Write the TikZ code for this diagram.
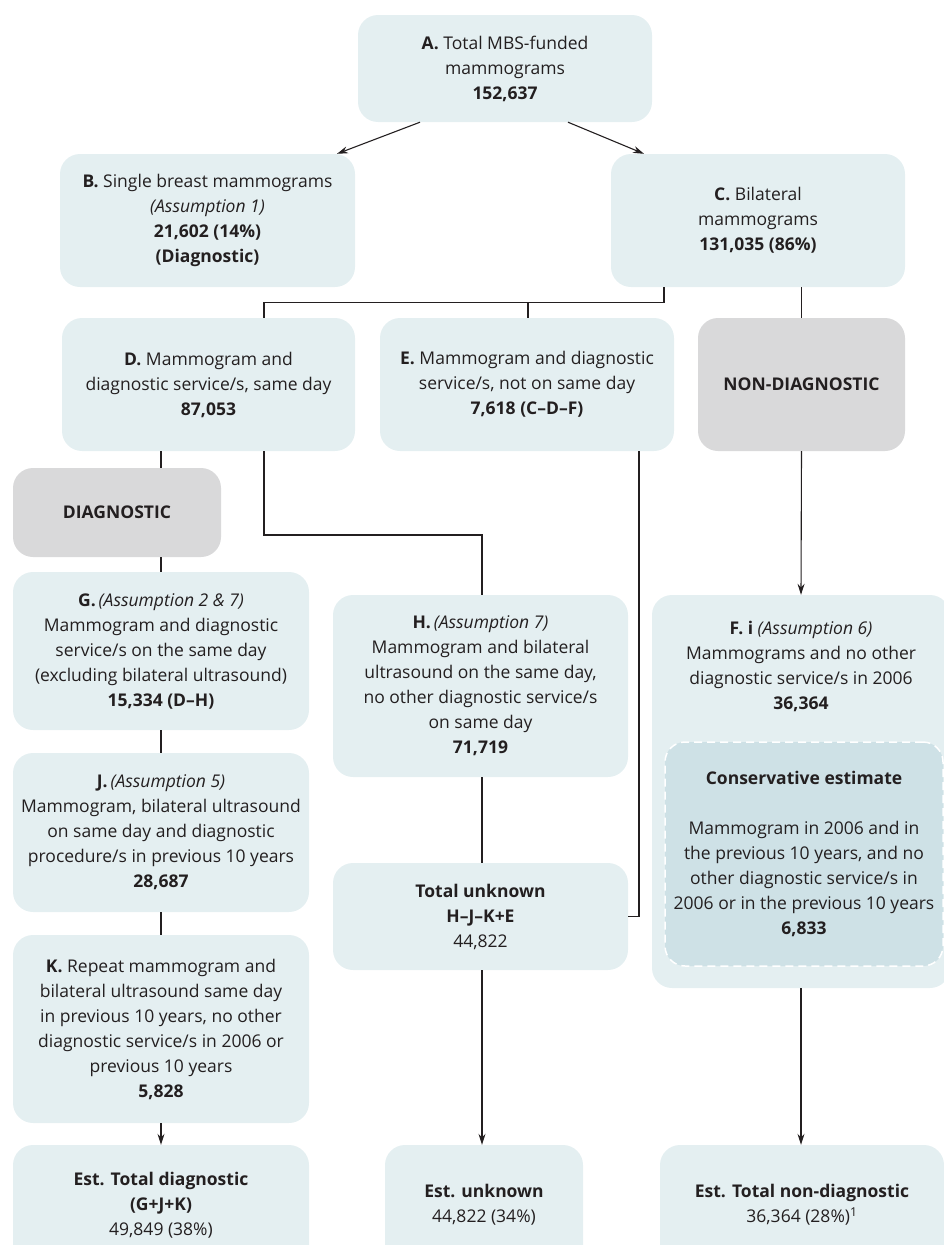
\documentclass[tikz,border=0pt]{standalone}
\usepackage{fontspec}
\setmainfont{Open Sans}
\usetikzlibrary{arrows.meta,calc}
\definecolor{boxblue}{HTML}{E4EFF1}
\definecolor{boxgray}{HTML}{D9D9DA}
\definecolor{consblue}{HTML}{CEE1E6}
\definecolor{ink}{HTML}{231F20}
\begin{document}
\begin{tikzpicture}[x=1pt,y=-1pt,
  font=\fontsize{17.5}{25}\selectfont, text=ink,
  box/.style={fill=boxblue, rounded corners=20pt, align=center, inner sep=0pt},
  graybox/.style={box, fill=boxgray},
  ln/.style={draw=ink, line width=1.1pt},
  arr/.style={ln, -{Stealth[length=11pt,width=7pt]}}]
\useasboundingbox (0,0) rectangle (944,1245);
\clip (0,0) rectangle (944,1245);
\node[box, minimum width=294, minimum height=107] (A) at (505,68.5) {\textbf{A.} Total MBS-funded\\mammograms\\\textbf{152,637}};
\node[box, minimum width=295, minimum height=133] (B) at (207.5,220.5) {\textbf{B.} Single breast mammograms\\\textit{(Assumption 1)}\\\textbf{21,602 (14\%)}\\\textbf{(Diagnostic)}};
\node[box, minimum width=294, minimum height=133] (C) at (758,220.5) {\textbf{C.} Bilateral\\mammograms\\\textbf{131,035 (86\%)}};
\node[box, minimum width=293, minimum height=133] (D) at (208.5,384.5) {\textbf{D.} Mammogram and\\diagnostic service/s, same day\\\textbf{87,053}};
\node[box, minimum width=294, minimum height=133] (E) at (527,384.5) {\textbf{E.} Mammogram and diagnostic\\service/s, not on same day\\\textbf{7,618 (C–D–F)}};
\node[graybox, minimum width=207, minimum height=133] (ND) at (801.5,384.5) {\textbf{NON-DIAGNOSTIC}};
\node[graybox, minimum width=208, minimum height=89] (DG) at (117,512.5) {\textbf{DIAGNOSTIC}};
\node[box, minimum width=296, minimum height=158] (G) at (161,651) {\textbf{G.}\,\textit{(Assumption 2 \& 7)}\\Mammogram and diagnostic\\service/s on the same day\\(excluding bilateral ultrasound)\\\textbf{15,334 (D–H)}};
\node[box, minimum width=295, minimum height=182] (H) at (480.5,686) {\textbf{H.}\,\textit{(Assumption 7)}\\Mammogram and bilateral\\ultrasound on the same day,\\no other diagnostic service/s\\on same day\\\textbf{71,719}};
\node[box, minimum width=298, minimum height=393] (F) at (801,791.5) {};
\node[align=center, inner sep=0pt] (Ft) at (801,666) {\textbf{F. i} \textit{(Assumption 6)}\\Mammograms and no other\\diagnostic service/s in 2006\\\textbf{36,364}};
\node[box, fill=consblue, draw=white, dash pattern=on 8pt off 5pt, line width=1.5pt, minimum width=278, minimum height=224] (CE) at (804,854) {\textbf{Conservative estimate}\\[25pt]Mammogram in 2006 and in\\the previous 10 years, and no\\other diagnostic service/s in\\2006 or in the previous 10 years\\\textbf{6,833}};
\node[box, minimum width=296, minimum height=159] (J) at (161,832.5) {\textbf{J.}\,\textit{(Assumption 5)}\\Mammogram, bilateral ultrasound\\on same day and diagnostic\\procedure/s in previous 10 years\\\textbf{28,687}};
\node[box, minimum width=296, minimum height=188] (K) at (161,1029) {\textbf{K.} Repeat mammogram and\\bilateral ultrasound same day\\in previous 10 years, no other\\diagnostic service/s in 2006 or\\previous 10 years\\\textbf{5,828}};
\node[box, minimum width=295, minimum height=107] (TU) at (480.5,916.5) {\textbf{Total unknown}\\\textbf{H–J–K+E}\\44,822};
\node[box, minimum width=296, minimum height=120] (ED) at (161,1205) {\textbf{Est. Total diagnostic}\\\textbf{(G+J+K)}\\49,849 (38\%)};
\node[box, minimum width=198, minimum height=120] (EU) at (484,1205) {\textbf{Est. unknown}\\44,822 (34\%)};
\node[box, minimum width=284, minimum height=120] (EN) at (802,1205) {\textbf{Est. Total non-diagnostic}\\36,364 (28\%)\textsuperscript{1}};
% connectors
\draw[arr] ([xshift=-85pt]A.south) -- ([xshift=129.5pt]B.north);
\draw[arr] ([xshift=63pt]A.south) -- ([xshift=-114pt]C.north);
\draw[ln] ([xshift=-94pt]C.south) -- ++(0,15) -| ([xshift=55.5pt]D.north);
\coordinate (tee) at (528,302);
\draw[ln] (tee) -- ([xshift=1pt]E.north);
\draw[ln] (ND.north |- C.south) -- (ND.north);
\draw[ln] (D.south -| G.north) -- (DG.north -| G.north);
\draw[ln] (DG.south -| G.north) -- (G.north);
\coordinate (dh) at (264,535);
\draw[ln] ([xshift=55.5pt]D.south) -- (dh) -| ([xshift=1.5pt]H.north);
\draw[arr] (ND.south) -- (F.north);
\draw[ln] ([xshift=112pt]E.south) |- (TU.east);
\draw[ln] ([xshift=1.5pt]H.south) -- ([xshift=1.5pt]TU.north);
\draw[ln] (G.south) -- (J.north);
\draw[ln] (J.south) -- (K.north);
\draw[arr] (K.south) -- (ED.north);
\draw[arr] ([xshift=1.5pt]TU.south) -- ([xshift=1.5pt]TU.south |- EU.north);
\draw[arr] (F.south) -- (F.south |- EN.north);
\end{tikzpicture}
\end{document}
